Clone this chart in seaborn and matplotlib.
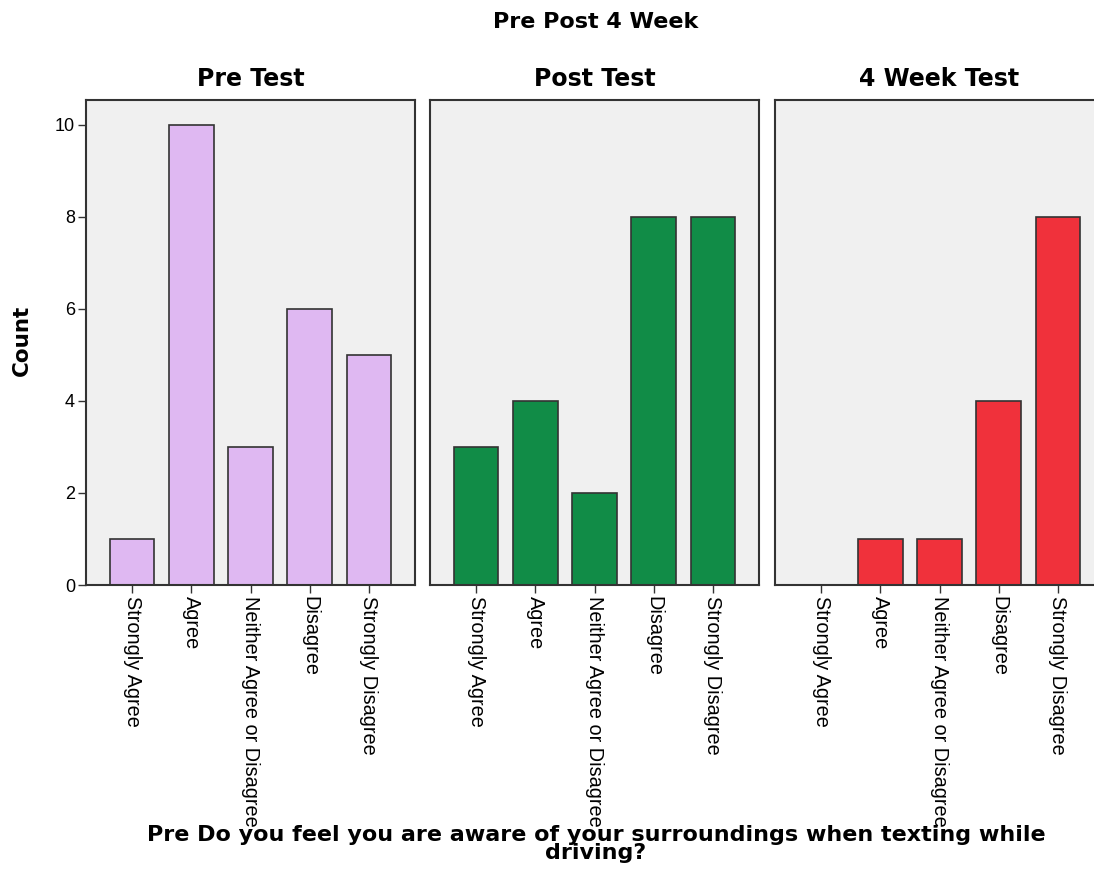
import numpy as np
import pandas as pd
import seaborn as sns
import matplotlib.pyplot as plt

responses = ['Strongly Agree', 'Agree', 'Neither Agree or Disagree', 'Disagree', 'Strongly Disagree']
tests = ['Pre Test', 'Post Test', '4 Week Test']
pre_counts = [1, 10, 3, 6, 5]
post_counts = [3, 4, 2, 8, 8]
week4_counts = [0, 1, 1, 4, 8]
colors = ['#dfb8f2', '#118c47', '#f0313b']

data = pd.DataFrame({
    'Test': np.repeat(tests, len(responses)),
    'Response': responses * len(tests),
    'Count': pre_counts + post_counts + week4_counts,
})

sns.set_style('white')
plt.rcParams['font.family'] = ['Liberation Sans', 'DejaVu Sans']
plt.rcParams['text.color'] = 'black'
plt.rcParams['xtick.color'] = 'black'
plt.rcParams['ytick.color'] = 'black'

bold = ['DejaVu Sans']

W, H = 1094, 869
fig = plt.figure(figsize=(W / 100, H / 100), dpi=100)

lefts = [86, 430, 775]
for i, (test, col) in enumerate(zip(tests, colors)):
    ax = fig.add_axes([lefts[i] / W, (H - 585) / H, 329 / W, 485 / H])
    sub = data[data['Test'] == test]
    sns.barplot(data=sub, x='Response', y='Count', order=responses, color=col,
                saturation=1, width=0.75, edgecolor='#333333', linewidth=1.2, ax=ax)
    ax.set_facecolor('#f0f0f0')
    ax.set_xlim(-0.78, 4.78)
    ax.set_ylim(0, 10.54)
    ax.set_xlabel('')
    ax.set_ylabel('')
    ax.set_title(test, fontsize=17, fontweight='bold', family=bold, pad=10)
    for s in ax.spines.values():
        s.set_color('#333333')
        s.set_linewidth(1.5)
    ax.tick_params(axis='x', bottom=True, length=6, width=1, color='#333333', pad=2)
    ax.set_xticks(range(len(responses)))
    ax.set_xticklabels(responses, rotation=270, ha='center', va='top', fontsize=14.3)
    if i == 0:
        ax.set_yticks([0, 2, 4, 6, 8, 10])
        ax.tick_params(axis='y', left=True, length=6, width=1, color='#333333', labelsize=13, pad=2)
    else:
        ax.set_yticks([])

fig.text(596 / W, 1 - 22 / H, 'Pre Post 4 Week', ha='center', va='center',
         fontsize=16, fontweight='bold', family=bold)
fig.text(22 / W, 1 - 340 / H, 'Count', ha='center', va='center', rotation=90,
         fontsize=15.5, fontweight='bold', family=bold)
fig.text(596 / W, 1 - 844 / H,
         'Pre Do you feel you are aware of your surroundings when texting while\ndriving?',
         ha='center', va='center', fontsize=16, fontweight='bold', family=bold, linespacing=0.85)

fig.savefig('out.png', dpi=100)
